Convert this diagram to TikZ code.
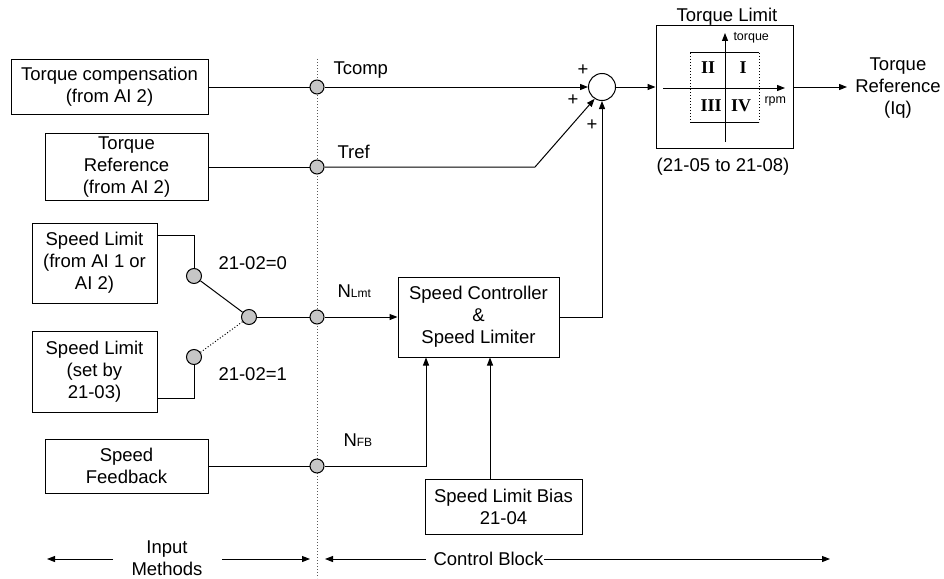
\documentclass[tikz,border=0pt]{standalone}
\usepackage{fontspec}
\setmainfont{Liberation Sans}
\newfontfamily\romfont{Liberation Serif}
\usetikzlibrary{arrows.meta}
\begin{document}
\begin{tikzpicture}[x=1pt,y=-1pt,line width=1pt,
  every node/.style={font=\fontsize{18.5}{22}\selectfont, inner sep=0pt, align=center},
  blk/.style={draw, fill=white},
  tip/.style={-{Triangle[length=8pt,width=6pt]}},
  dot/.style={circle, draw, fill=gray!45, minimum size=14pt},
  small/.style={font=\fontsize{12.5}{13}\selectfont},
  rom/.style={font=\romfont\bfseries\fontsize{18}{18}\selectfont}]
\useasboundingbox (0,0) rectangle (944,578);

% divider
\coordinate (dvt) at (317,59);
\coordinate (dvb) at (317,578);
\draw[dotted, gray!70!black] (dvt) -- (dvb);

% boxes
\node[blk, minimum width=197pt, minimum height=54pt] (tc) at (109.5,87) {Torque compensation\\(from AI 2)};
\node[blk, minimum width=163pt, minimum height=67pt] (tr) at (126.5,167) {Torque\\Reference\\(from AI 2)};
\node[blk, minimum width=125pt, minimum height=80pt] (sl1) at (94.5,263) {Speed Limit\\(from AI 1 or\\AI 2)};
\node[blk, minimum width=125pt, minimum height=81pt] (sl2) at (94.5,371.5) {Speed Limit\\(set by\\21-03)};
\node[blk, minimum width=163pt, minimum height=54pt] (sf) at (126.5,466) {Speed\\Feedback};
\node[blk, minimum width=161pt, minimum height=80pt] (sc) at (478.5,317) {Speed Controller\\\&\\Speed Limiter};
\node[blk, minimum width=157pt, minimum height=55pt] (sb) at (503.5,506.5) {Speed Limit Bias\\21-04};
\node[draw, minimum width=137pt, minimum height=122pt] (tl) at (724.5,87) {};

% circles
\node[dot] (dc1) at (317,87) {};
\node[dot] (dc2) at (317,167) {};
\node[dot] (dc3) at (317,317) {};
\node[dot] (dc4) at (317,466) {};
\node[dot, minimum size=15pt] (s1) at (194,276) {};
\node[dot, minimum size=15pt] (s2) at (194,357) {};
\node[dot, minimum size=15pt] (pv) at (249,317) {};
\node[circle, draw, minimum size=27pt] (sum) at (602,87) {};

% connectors
\draw (tc) -- (dc1);
\draw[tip] (dc1) -- (sum);
\draw (tr) -- (dc2);
\coordinate (trk) at (535,167);
\draw[tip] (dc2) -- (trk) -- (sum.238);
\draw ([yshift=28pt]sl1.east) -| (s1);
\draw ([yshift=-26.5pt]sl2.east) -| (s2);
\draw (s1) -- (pv);
\draw[dotted] (s2) -- (pv);
\draw (pv) -- (dc3);
\draw[tip] (dc3) -- (sc.west);
\draw (sf) -- (dc4);
\draw[tip] (dc4) -| ([xshift=-52.5pt]sc.south);
\draw[tip] ([xshift=-13.5pt]sb.north) -- ([xshift=11.5pt]sc.south);
\draw[tip] (sc.east) -| (sum.south);
\draw[tip] (sum.east) -- (tl.west);
\coordinate (out) at (847,87);
\draw[tip] (tl.east) -- (out);

% torque limit internals
\coordinate (vb) at (725,142);
\coordinate (vt) at (725,33);
\coordinate (hl) at (663,88);
\coordinate (hr) at (785,88);
\draw[tip] (vb) -- (vt);
\draw[tip] (hl) -- (hr);
\draw (690,53) -- (759,53);
\draw (690,122) -- (759,122);
\draw[dotted] (690,53) -- (690,122);
\draw[dotted] (759,53) -- (759,122);
\node[rom] (q2) at (708,68) {II};
\node[rom] (q1) at (743,68) {I};
\node[rom] (q3) at (711,106) {III};
\node[rom] (q4) at (741,106) {IV};
\node[small, anchor=west] (lt) at (733,38) {torque};
\node[small, anchor=west] (lr) at (764,101) {rpm};
\node (tlt) at (727,17) {Torque Limit};
\node (tlc) at (723,167) {(21-05 to 21-08)};
\node (tro) at (898,88) {Torque\\Reference\\(Iq)};

% labels
\node[anchor=west] (ltc) at (333,70) {Tcomp};
\node[anchor=west] (ltr) at (337,152) {Tref};
\node[anchor=west] (lnl) at (337,291) {N{\fontsize{12}{12}\selectfont Lmt}};
\node[anchor=west] (lnf) at (343,440) {N{\fontsize{12}{12}\selectfont FB}};
\node[anchor=west] (l0) at (218,263) {21-02=0};
\node[anchor=west] (l1) at (218,374) {21-02=1};
\node (p1) at (583,70) {+};
\node (p2) at (573,100) {+};
\node (p3) at (592,125) {+};

% bottom
\node (im) at (167,558) {Input\\Methods};
\coordinate (a1) at (113,559);
\coordinate (a2) at (47,559);
\coordinate (a3) at (222,559);
\coordinate (a4) at (310,559);
\coordinate (a5) at (426,559);
\coordinate (a6) at (325,559);
\coordinate (a7) at (830,559);
\draw[tip] (a1) -- (a2);
\draw[tip] (a3) -- (a4);
\draw[tip] (a5) -- (a6);
\node[anchor=west] (cb) at (433,559) {Control Block};
\draw[tip] (cb.east) -- (a7);
\end{tikzpicture}
\end{document}
